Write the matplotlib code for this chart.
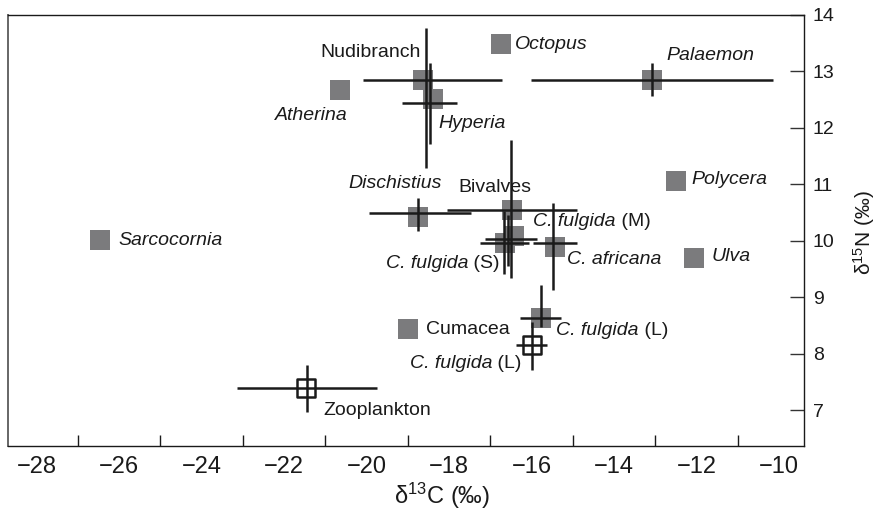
import matplotlib
matplotlib.use('Agg')
import matplotlib.pyplot as plt

plt.rcParams['font.family'] = ['Liberation Sans', 'DejaVu Sans']
plt.rcParams['mathtext.fontset'] = 'custom'
plt.rcParams['mathtext.rm'] = 'Liberation Sans'
plt.rcParams['mathtext.it'] = 'Liberation Sans:italic'

# ---- data (d13C, d15N) ----
filled_names = ['Sarcocornia', 'Atherina', 'Octopus', 'Nudibranch', 'Hyperia',
                'Palaemon', 'Dischistius', 'Bivalves', 'C. fulgida (M)',
                'C. fulgida (S)', 'C. africana', 'Polycera', 'Ulva', 'Cumacea',
                'C. fulgida (L)']
filled_d13c = [-26.47, -20.65, -16.75, -18.63, -18.40, -13.09, -18.76, -16.48,
               -16.43, -16.65, -15.44, -12.50, -12.07, -19.00, -15.78]
filled_d15n = [10.01, 12.67, 13.49, 12.85, 12.51, 12.85, 10.43, 10.55,
               10.09, 9.96, 9.89, 11.05, 9.69, 8.44, 8.63]

open_names = ['C. fulgida (L) open', 'Zooplankton']
open_d13c = [-15.99, -21.46]
open_d15n = [8.15, 7.39]

# error crosses: x of the vertical bar, y of the horizontal bar, and extents
err_names = ['Nudibranch', 'Hyperia', 'Palaemon', 'Dischistius', 'Bivalves',
             'C. fulgida (M)', 'C. fulgida (S)', 'C. africana',
             'C. fulgida (L)', 'C. fulgida (L) open', 'Zooplankton']
err_cx = [-18.57, -18.47, -13.09, -18.75, -16.49, -16.58, -16.67, -15.48, -15.78, -15.99, -21.44]
err_cy = [12.85, 12.44, 12.85, 10.50, 10.55, 10.04, 9.97, 9.97, 8.63, 8.15, 7.39]
err_xlo = [-20.10, -19.15, -16.02, -19.94, -18.06, -17.13, -17.25, -15.96, -16.28, -16.37, -23.15]
err_xhi = [-16.71, -17.82, -10.14, -17.46, -14.91, -15.88, -16.06, -14.91, -15.29, -15.62, -19.76]
err_ylo = [11.29, 11.71, 12.56, 10.17, 9.34, 9.55, 9.42, 9.13, 8.48, 7.71, 6.98]
err_yhi = [13.76, 13.14, 13.14, 10.76, 11.78, 10.45, 10.52, 10.67, 9.22, 8.57, 7.81]

# labels: italic part + upright part
label_it = ['Sarcocornia', 'Atherina', '', 'Hyperia', 'Octopus',
            'Palaemon', 'Dischistius', '',
            'C. fulgida', 'C. fulgida', 'C. africana', 'Polycera', 'Ulva', '',
            'C. fulgida', 'C. fulgida', '']
label_rm = ['', '', 'Nudibranch', '', '', '', '', 'Bivalves',
            ' (M)', ' (S)', '', '', '', 'Cumacea', ' (L)', ' (L)', 'Zooplankton']
label_x = [-26.03, -22.22, -21.12, -18.27, -16.41, -12.73, -20.45, -17.78,
           -15.96, -16.77, -15.14, -12.12, -11.65, -18.56, -15.40, -16.24, -21.05]
label_y = [10.01, 12.21, 13.34, 12.08, 13.48, 13.27, 11.01, 10.94,
           10.34, 9.60, 9.67, 11.09, 9.73, 8.43, 8.42, 7.83, 7.00]
label_ha = ['left', 'left', 'left', 'left', 'left', 'left', 'left', 'left',
            'left', 'right', 'left', 'left', 'left', 'left', 'left', 'right', 'left']

x_ticklabels = list(range(-28, -9, 2))
x_tickmarks = list(range(-27, -10, 2))
y_ticklabels = list(range(7, 15))

fig = plt.figure(figsize=(8.77, 5.13), dpi=100)
ax = fig.add_axes([8.3 / 877, 1 - 446 / 513, (804.3 - 8.3) / 877, (446 - 14.7) / 513])
ax.set_xlim(-28.69, -9.39)
ax.set_ylim(6.37, 14.0)

ink = '#1a1a1a'
ax.scatter(filled_d13c, filled_d15n, marker='s', s=14.4 ** 2, color='#7b7b7d',
           linewidths=0, zorder=2)
ax.scatter(open_d13c, open_d15n, marker='s', s=13 ** 2, facecolor='white',
           edgecolor=ink, linewidths=1.8, zorder=2)

ax.hlines(err_cy, err_xlo, err_xhi, color=ink, linewidth=1.8, zorder=3)
ax.vlines(err_cx, err_ylo, err_yhi, color=ink, linewidth=1.8, zorder=3)

FS = 14
for ti, tr, x, y, ha in zip(label_it, label_rm, label_x, label_y, label_ha):
    if ti and tr:
        if ha == 'left':
            t1 = ax.text(x, y, ti, ha='left', va='center', fontsize=FS, color=ink,
                         fontstyle='italic', zorder=4)
            ax.annotate(tr, xy=(1, 0), xycoords=t1, ha='left', va='bottom',
                        fontsize=FS, color=ink, zorder=4)
        else:
            t2 = ax.text(x, y, tr, ha='right', va='center', fontsize=FS, color=ink,
                         zorder=4)
            ax.annotate(ti, xy=(0, 0), xycoords=t2, ha='right', va='bottom',
                        fontsize=FS, color=ink, fontstyle='italic', zorder=4)
    elif ti:
        ax.text(x, y, ti, ha=ha, va='center', fontsize=FS, color=ink,
                fontstyle='italic', zorder=4)
    else:
        ax.text(x, y, tr, ha=ha, va='center', fontsize=FS, color=ink, zorder=4)

# x axis: labels at even values, tick marks at odd values
ax.set_xticks(x_ticklabels)
ax.set_xticklabels([f'\u2212{abs(v)}' for v in x_ticklabels], fontsize=17, color=ink)
ax.tick_params(axis='x', which='major', length=0, pad=7)
ax.set_xticks(x_tickmarks, minor=True)
ax.tick_params(axis='x', which='minor', direction='in', length=7.7, width=1.0,
               color=ink)

ax.yaxis.tick_right()
ax.set_yticks(y_ticklabels)
ax.set_yticklabels([str(v) for v in y_ticklabels], fontsize=14, color=ink)
ax.tick_params(axis='y', which='major', direction='in', length=10, width=1.0,
               pad=6, color='#333333')

for side in ['top', 'right', 'bottom']:
    ax.spines[side].set_color(ink)
    ax.spines[side].set_linewidth(1.0)
ax.spines['left'].set_color('#666666')
ax.spines['left'].set_linewidth(1.4)

fig.text(442 / 877, 1 - 496 / 513, 'δ$^{13}$C (‰)', ha='center', va='center',
         fontsize=17, color=ink)
fig.text(864 / 877, 1 - 233 / 513, 'δ$^{15}$N (‰)', ha='center', va='center',
         rotation=90, fontsize=15, color=ink)

fig.savefig('out.png', dpi=100)
